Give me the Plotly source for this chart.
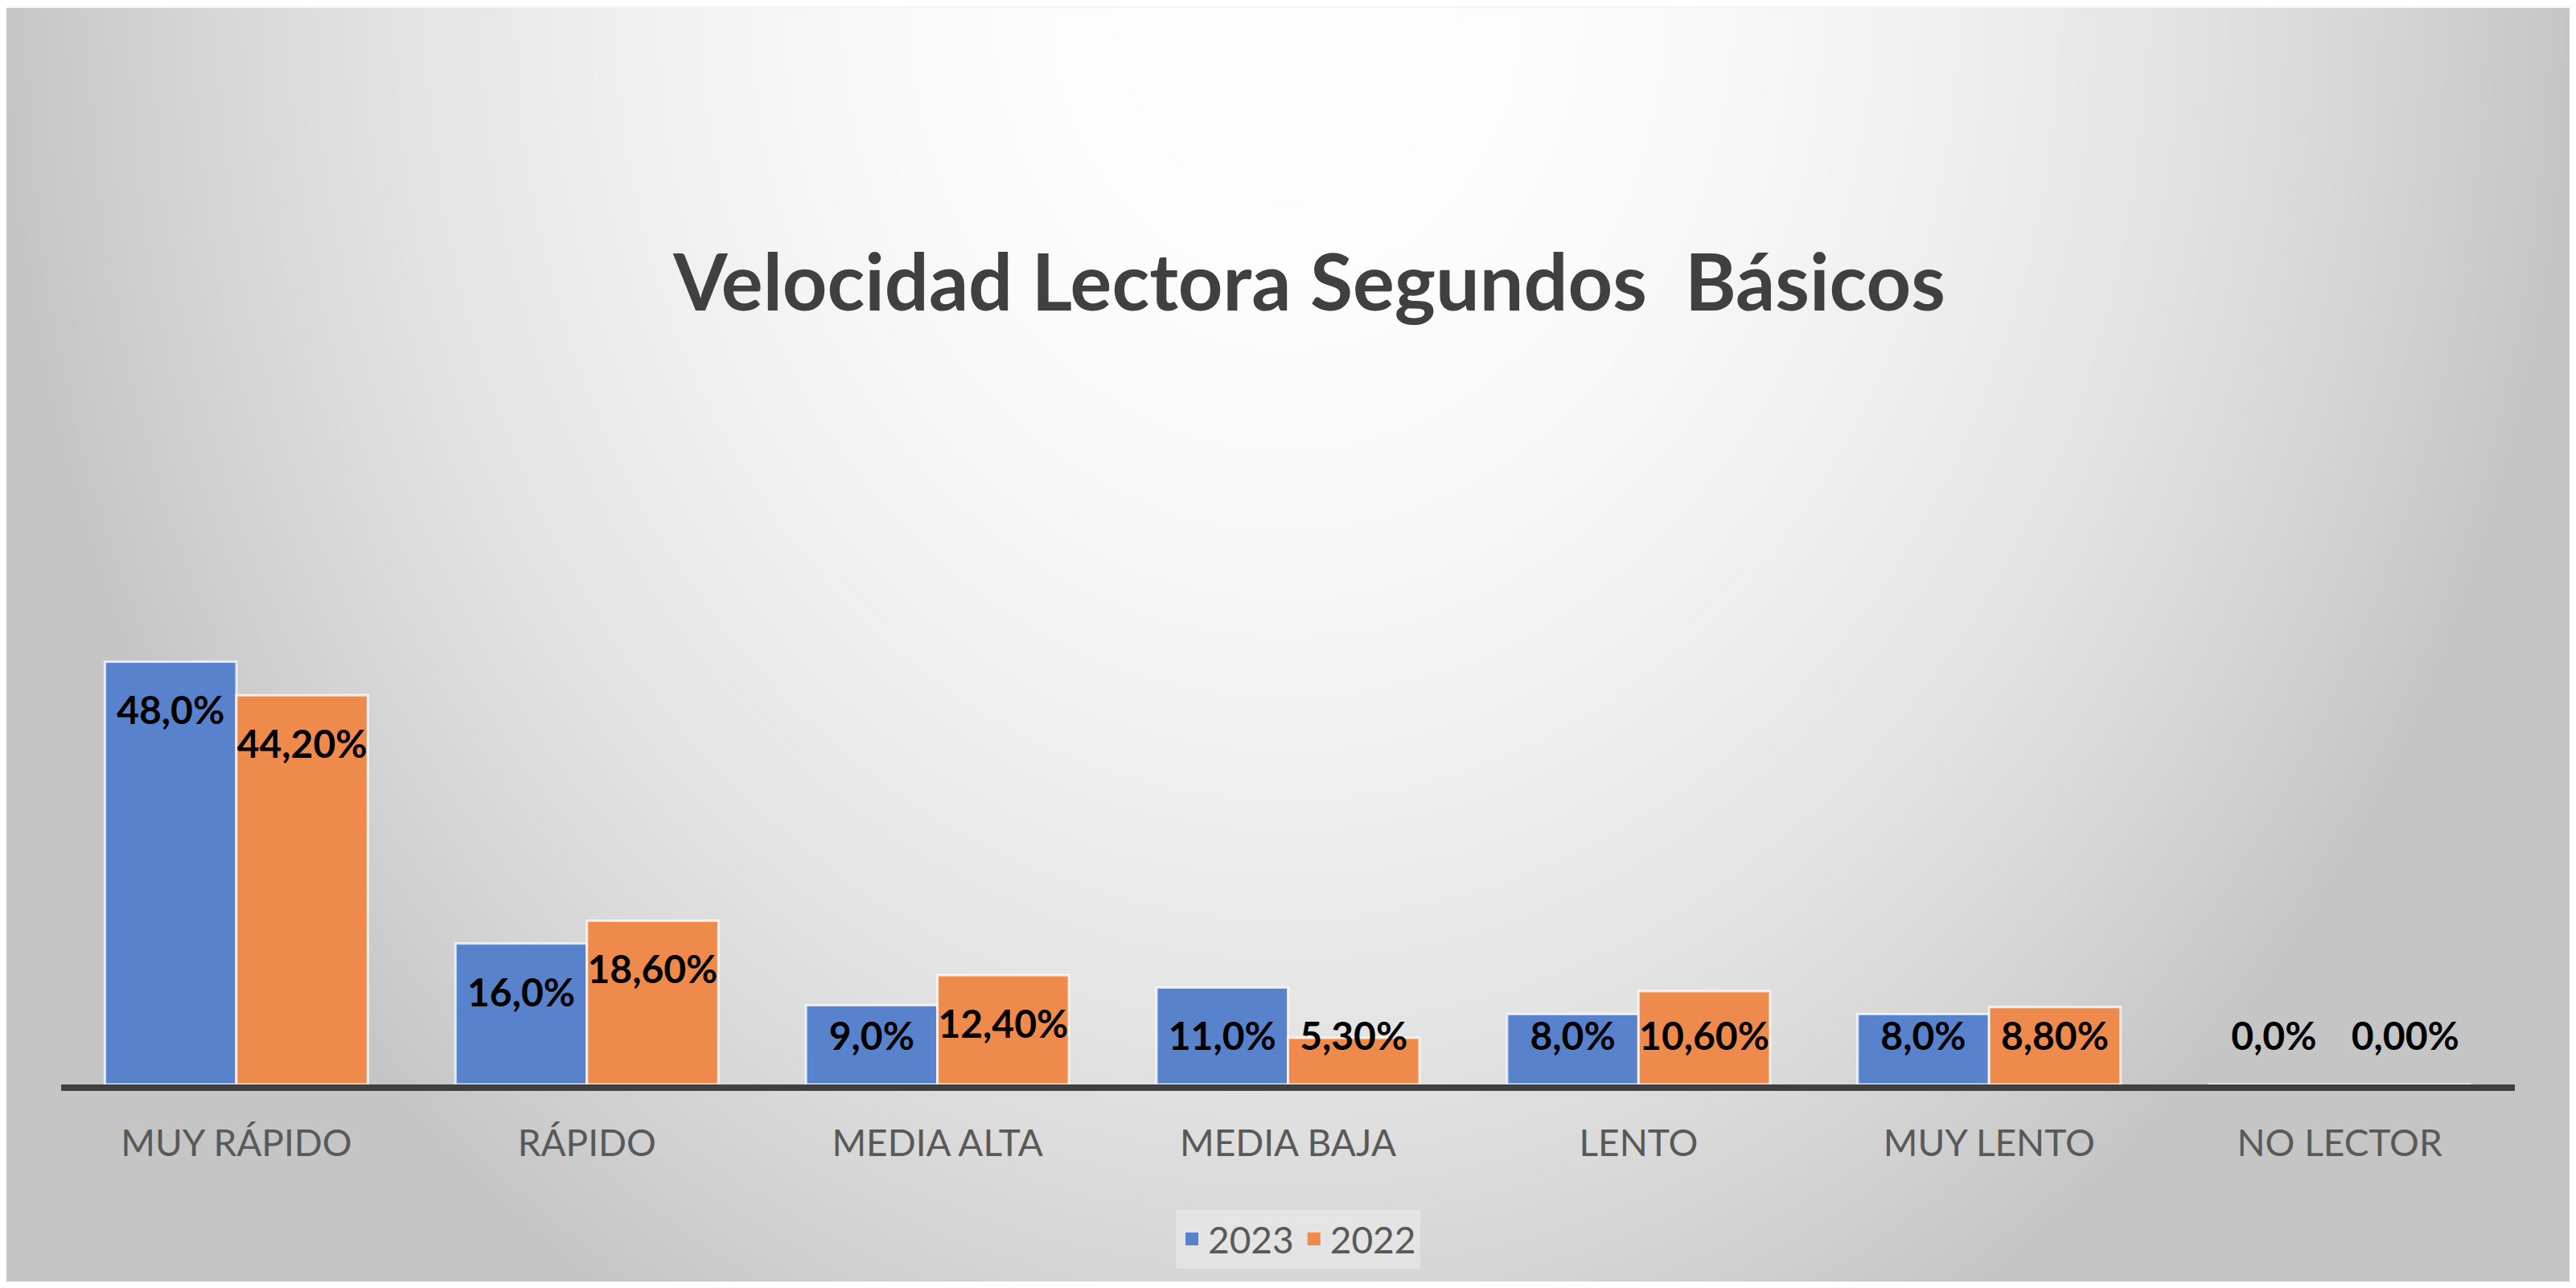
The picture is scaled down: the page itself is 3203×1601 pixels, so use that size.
import base64
import struct
import zlib

import numpy as np
import plotly.graph_objects as go

# ---------------- data ----------------
categories = ["MUY RÁPIDO", "RÁPIDO", "MEDIA ALTA", "MEDIA BAJA", "LENTO", "MUY LENTO", "NO LECTOR"]
values_2023 = [48.0, 16.0, 9.0, 11.0, 8.0, 8.0, 0.0]
values_2022 = [44.2, 18.6, 12.4, 5.3, 10.6, 8.8, 0.0]
series_names = ["2023", "2022"]

# ---------------- layout constants ----------------
# the page body has an 8px margin, so the figure is sized to fit inside it
OFF = 8
W, H = 3203 - 2 * OFF, 1601 - 2 * OFF
AX_Y = 1348 - OFF          # axis line (figure px)
ML = 76 - OFF
MR = W - (3127 - OFF)
PX_PER_PCT = 10.94
YMAX = 55
PH = int(round(YMAX * PX_PER_PCT))
MB = H - AX_Y
MT = AX_Y - PH
PW = W - ML - MR
BLUE = "#5882cb"
ORANGE = "#ee8a4b"
FONT = "Lato"

# ---------------- background gradient (radial, light at top centre) ----------------
bx0, by0, bx1, by1 = 0, 2, W, H
gw, gh = bx1 - bx0, by1 - by0
xs = np.arange(gw) + bx0 + OFF
ys = np.arange(gh) + by0 + OFF
X, Y = np.meshgrid(xs, ys)
r2 = ((X - 1600) / 1600.0) ** 2 + ((Y - 0) / 1900.0) ** 2
drop = np.clip(58 * r2, 0, 58)
img = np.clip(255 - drop, 0, 255).astype(np.uint8)


def png_gray(arr):
    h, w = arr.shape
    raw = b"".join(b"\x00" + arr[i].tobytes() for i in range(h))

    def chunk(t, d):
        c = struct.pack(">I", len(d)) + t + d
        return c + struct.pack(">I", zlib.crc32(t + d) & 0xFFFFFFFF)

    return (b"\x89PNG\r\n\x1a\n"
            + chunk(b"IHDR", struct.pack(">IIBBBBB", w, h, 8, 0, 0, 0, 0))
            + chunk(b"IDAT", zlib.compress(raw, 9))
            + chunk(b"IEND", b""))


bg_uri = "data:image/png;base64," + base64.b64encode(png_gray(img)).decode()

# ---------------- figure ----------------
idx = list(range(len(categories)))
bw = 0.375

fig = go.Figure()
fig.add_trace(go.Bar(x=idx, y=values_2023, width=bw, offset=-bw, name=series_names[0],
                     marker=dict(color=BLUE, line=dict(color="rgba(255,255,255,0.75)", width=3)),
                     showlegend=False, hoverinfo="skip"))
fig.add_trace(go.Bar(x=idx, y=values_2022, width=bw, offset=0, name=series_names[1],
                     marker=dict(color=ORANGE, line=dict(color="rgba(255,255,255,0.75)", width=3)),
                     showlegend=False, hoverinfo="skip"))

# data labels
lab23 = [f"{v:.1f}".replace(".", ",") + "%" for v in values_2023]
lab22 = [f"{v:.2f}".replace(".", ",") + "%" for v in values_2022]
fig.add_trace(go.Scatter(x=[i - bw / 2 for i in idx], y=[max(v - 6, 5.0) for v in values_2023],
                         mode="text", text=lab23, textposition="middle center",
                         textfont=dict(family=FONT, size=48, color="#000000", weight="bold"),
                         showlegend=False, hoverinfo="skip"))
fig.add_trace(go.Scatter(x=[i + bw / 2 for i in idx], y=[max(v - 6, 5.0) for v in values_2022],
                         mode="text", text=lab22, textposition="middle center",
                         textfont=dict(family=FONT, size=48, color="#000000", weight="bold"),
                         showlegend=False, hoverinfo="skip"))

# legend entries
for name, col in zip(series_names, [BLUE, ORANGE]):
    fig.add_trace(go.Scatter(x=[None], y=[None], mode="markers", name=name,
                             marker=dict(symbol="square", size=16, color=col)))

fig.update_layout(
    width=W, height=H,
    margin=dict(l=ML, r=MR, t=MT, b=MB, pad=0),
    paper_bgcolor="#f5f4f2",
    plot_bgcolor="rgba(0,0,0,0)",
    barmode="overlay",
    font=dict(family=FONT, color="#595959"),
    title=dict(text="<b>Velocidad Lectora Segundos  Básicos</b>",
               x=(1628 - OFF) / W, xanchor="center", y=1 - (352 - OFF) / H, yanchor="middle",
               font=dict(family=FONT, size=97, color="#404040")),
    xaxis=dict(range=[-0.5, 6.5], tickvals=idx, ticktext=categories,
               showgrid=False, zeroline=False, showline=True, linecolor="#404040",
               linewidth=8, ticks="", ticklabelstandoff=26,
               tickfont=dict(family=FONT, size=46, color="#595959"), fixedrange=True),
    yaxis=dict(range=[0, YMAX], visible=False, fixedrange=True),
    legend=dict(orientation="h", x=(1614 - OFF - ML) / PW, xanchor="center",
                y=-((1540 - OFF) - AX_Y) / PH,
                yanchor="middle", bgcolor="rgba(240,240,240,0.5)",
                font=dict(family=FONT, size=46, color="#595959"),
                itemsizing="trace"),
    images=[dict(source=bg_uri, xref="paper", yref="paper",
                 x=(bx0 - ML) / PW, y=(AX_Y - by0) / PH,
                 sizex=gw / PW, sizey=gh / PH, xanchor="left", yanchor="top",
                 sizing="stretch", layer="below")],
)

fig.write_html("out.html")
